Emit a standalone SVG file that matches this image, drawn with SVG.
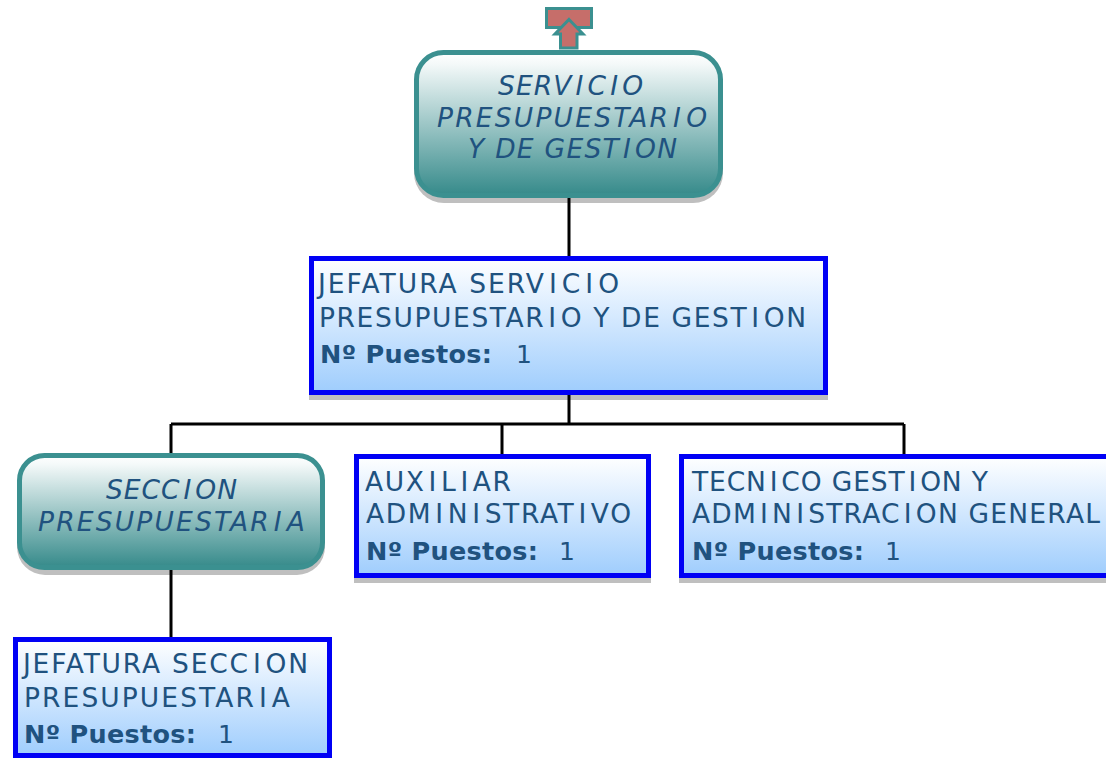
<svg xmlns="http://www.w3.org/2000/svg" width="1106" height="758" viewBox="0 0 1106 758">
<style>
text{font-family:"DejaVu Sans",sans-serif;fill:#20527f;font-size:26.500px}
.i{font-style:italic}
.b{font-weight:bold;font-size:25.500px}
.n{font-size:25px}
.c{fill:none;stroke:#000;stroke-width:3}
.r{fill:url(#gt);stroke:#3b9090;stroke-width:5}
.s{fill:url(#gb);stroke:#0000f5;stroke-width:5}
.sh{fill:#bfbfbf}
</style>
<defs>
<linearGradient id="gt" x1="0" y1="0" x2="0" y2="1"><stop offset="0" stop-color="#ffffff"/><stop offset="0.08" stop-color="#f4f9f9"/><stop offset="1" stop-color="#358a8a"/></linearGradient>
<linearGradient id="gb" x1="0" y1="0" x2="0" y2="1"><stop offset="0" stop-color="#ffffff"/><stop offset="1" stop-color="#9fcdfd"/></linearGradient>
</defs>
<g id="top-icon">
<rect x="546.500" y="8.500" width="45" height="19" fill="#c66e6a" stroke="#3b9090" stroke-width="3"/>
<path d="M569 19.500L583 34H577V48H560.500V34H555Z" fill="#c66e6a" stroke="#3b9090" stroke-width="3"/>
</g>
<g id="node-servicio">
<rect class="sh" x="414" y="56" width="309" height="147" rx="30"/>
<rect class="r" x="416.500" y="52.500" width="304" height="143" rx="27"/>
<text class="i" x="498" y="95" textLength="145" dx="0 0 0 0 3 3 3 3">SERVICIO</text>
<text class="i" x="437" y="127" textLength="270" dx="0 0 0 0 0 0 0 0 0 0 0 0 3 3">PRESUPUESTARIO</text>
<text class="i" x="468" y="158" textLength="209" dx="0 0 0 0 0 0 0 0 0 3 3">Y DE GESTION</text>
</g>
<g id="node-jefatura-servicio">
<rect class="sh" x="309" y="262" width="519" height="138"/>
<rect class="s" x="311.500" y="258.500" width="514" height="134"/>
<text x="318" y="293" textLength="301" dx="0 0 0 0 0 0 0 0 0 0 0 0 0 3 3 3 3">JEFATURA SERVICIO</text>
<text x="319" y="327" textLength="487" dx="0 0 0 0 0 0 0 0 0 0 0 0 3 3 0 0 0 0 0 0 0 0 0 0 3 3">PRESUPUESTARIO Y DE GESTION</text>
<text class="b" x="320" y="363" textLength="172">Nº Puestos:</text>
<text class="n" x="516" y="363">1</text>
</g>
<g id="node-seccion">
<rect class="sh" x="17" y="459" width="308" height="116" rx="28"/>
<rect class="r" x="19.500" y="455.500" width="303" height="112" rx="25"/>
<text class="i" x="106" y="499" textLength="131" dx="0 0 0 0 3 3">SECCION</text>
<text class="i" x="38" y="531" textLength="267" dx="0 0 0 0 0 0 0 0 0 0 0 0 3 3">PRESUPUESTARIA</text>
</g>
<g id="node-auxiliar">
<rect class="sh" x="354" y="460" width="297" height="123"/>
<rect class="s" x="356.500" y="456.500" width="292" height="119"/>
<text x="365" y="491" textLength="146" dx="0 0 0 3 3 3 3">AUXILIAR</text>
<text x="366" y="523" textLength="265" dx="0 0 0 3 3 3 3 0 0 0 0 3 3">ADMINISTRATIVO</text>
<text class="b" x="366" y="560" textLength="172">Nº Puestos:</text>
<text class="n" x="559" y="560">1</text>
</g>
<g id="node-tecnico">
<rect class="sh" x="679" y="460" width="432" height="123"/>
<rect class="s" x="681.500" y="456.500" width="430" height="119"/>
<text x="692" y="491" textLength="296" dx="0 0 0 0 3 3 0 0 0 0 0 0 3 3">TECNICO GESTION Y</text>
<text x="692" y="523" textLength="408" dx="0 0 0 3 3 3 3 0 0 0 0 3 3">ADMINISTRACION GENERAL</text>
<text class="b" x="692" y="560" textLength="172">Nº Puestos:</text>
<text class="n" x="885" y="560">1</text>
</g>
<g id="node-jefatura-seccion">
<rect class="s" x="15.500" y="639.500" width="314" height="116"/>
<text x="23" y="673" textLength="285" dx="0 0 0 0 0 0 0 0 0 0 0 0 0 3 3">JEFATURA SECCION</text>
<text x="24" y="707" textLength="266" dx="0 0 0 0 0 0 0 0 0 0 0 0 3 3">PRESUPUESTARIA</text>
<text class="b" x="24" y="743" textLength="172">Nº Puestos:</text>
<text class="n" x="218" y="743">1</text>
</g>
<g id="connectors">
<path class="c" d="M569 198V256M569 395V424M171 424H904M171 424V453M502 424V454M904 424V454M171 570V637"/>
</g>
</svg>
